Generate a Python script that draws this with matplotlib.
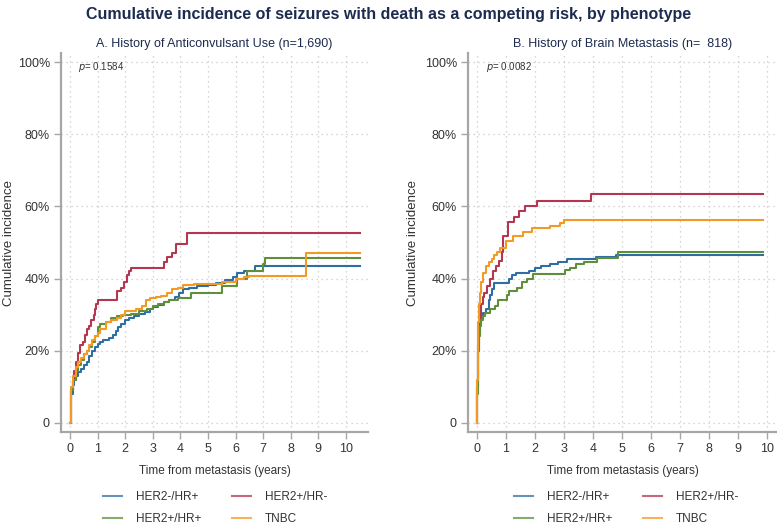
import matplotlib
matplotlib.use("Agg")
import matplotlib.pyplot as plt

plt.rcParams["font.family"] = ["Liberation Sans", "DejaVu Sans"]

groups = ["HER2-/HR+", "HER2+/HR-", "HER2+/HR+", "TNBC"]
colors = ["#2f6ea3", "#b5374f", "#5f8f3a", "#f39a24"]

# Panel A: history of anticonvulsant use
a_t_blue = [0, 0.02, 0.05, 0.1, 0.15, 0.2, 0.3, 0.4, 0.5, 0.6, 0.7, 0.8, 0.9, 1.0, 1.1, 1.2, 1.4,
            1.55, 1.65, 1.75, 1.85, 2.0, 2.15, 2.3, 2.5, 2.7, 2.9, 3.0, 3.2, 3.4, 3.6, 3.8, 3.95,
            4.1, 4.3, 4.6, 5.0, 5.3, 5.6, 5.9, 6.05, 6.3, 6.7, 10.5]
a_v_blue = [0, 5, 8, 10.5, 12, 13, 14, 15, 16, 17, 18.5, 20, 21, 22, 22.5, 23, 23.5,
            24.5, 25.5, 26.5, 27.5, 28.5, 29, 29.5, 30.2, 30.8, 31.5, 32, 32.8, 33.5, 34.2, 35, 36,
            37, 37.5, 38, 38.3, 38.8, 39.5, 40.5, 41.5, 42, 43.5, 43.5]
a_t_red = [0, 0.02, 0.05, 0.1, 0.15, 0.2, 0.3, 0.35, 0.45, 0.55, 0.6, 0.7, 0.75, 0.85, 0.9, 0.95,
           1.0, 1.6, 1.7, 1.85, 1.95, 2.05, 2.15, 2.2, 3.3, 3.4, 3.5, 3.7, 3.85, 4.25, 10.5]
a_v_red = [0, 6, 9, 12, 14.5, 17, 19.5, 21.5, 22.5, 24.5, 26, 27, 28.5, 30, 31.5, 33,
           34, 34, 36.5, 37.5, 39, 41, 42, 43, 43, 44.5, 46, 47.2, 49.7, 52.7, 52.7]
a_t_green = [0, 0.02, 0.05, 0.1, 0.2, 0.3, 0.4, 0.5, 0.6, 0.7, 0.8, 0.9, 1.0, 1.1, 1.3, 1.5, 1.7,
             1.9, 2.2, 2.5, 2.8, 3.0, 3.2, 3.4, 3.6, 3.9, 4.4, 5.5, 5.95, 6.05, 6.4, 7.0, 7.05, 10.5]
a_v_green = [0, 6, 9, 12, 14.5, 16, 17.5, 19, 20, 21, 22.5, 24, 26.5, 27.5, 28, 29, 29.5,
             30, 30.3, 31, 31.5, 32.3, 33, 33.5, 34, 34.7, 36, 38, 38, 40, 42, 44, 45.8, 45.8]
a_t_orange = [0, 0.02, 0.05, 0.1, 0.2, 0.3, 0.4, 0.5, 0.6, 0.7, 0.8, 0.9, 1.0, 1.1, 1.3, 1.5, 1.7,
              1.85, 2.0, 2.2, 2.4, 2.6, 2.75, 2.9, 3.1, 3.3, 3.5, 3.7, 3.9, 4.1, 4.5, 5.0, 5.5,
              6.0, 6.3, 6.5, 8.55, 10.5]
a_v_orange = [0, 7, 10, 13, 15.5, 17, 18, 19, 20, 21.5, 23, 24, 25, 26, 28, 28.5, 29,
              30, 31, 31, 31.5, 32.5, 34, 34.5, 35, 35.3, 36, 37, 37.5, 38.3, 38.5, 38.5, 39,
              40, 40.5, 40.7, 47, 47]

# Panel B: history of brain metastasis
b_t_blue = [0, 0.01, 0.02, 0.04, 0.06, 0.1, 0.15, 0.2, 0.3, 0.4, 0.45, 0.5, 0.6, 1.0, 1.1, 1.2,
            1.35, 1.6, 1.8, 2.0, 2.2, 2.5, 2.8, 3.1, 4.1, 4.8, 9.86]
b_v_blue = [0, 10, 18, 22, 25, 28, 29.5, 30.5, 31.5, 34, 35.5, 37, 38.7, 38.7, 40, 41,
            41.5, 41.5, 42, 43, 43.5, 44, 44.5, 45.5, 46, 46.5, 46.5]
b_t_red = [0, 0.01, 0.03, 0.06, 0.1, 0.15, 0.2, 0.25, 0.35, 0.45, 0.55, 0.65, 0.75, 0.85, 0.9,
           1.07, 1.27, 1.45, 1.65, 2.06, 3.92, 9.86]
b_v_red = [0, 10, 20, 26, 30, 33, 35, 36, 38, 40, 42, 43.5, 45, 47.5, 51.7,
           55.8, 57.2, 58.6, 60, 61.4, 63.5, 63.5]
b_t_green = [0, 0.01, 0.02, 0.04, 0.07, 0.1, 0.15, 0.2, 0.28, 0.45, 0.62, 0.74, 1.02, 1.12, 1.37,
             1.54, 1.71, 1.94, 3.03, 3.2, 3.4, 3.7, 4.15, 4.85, 9.86]
b_v_green = [0, 8, 15, 20, 24, 27, 28.5, 29.5, 30.5, 31.5, 32.5, 34, 35.5, 36.5, 37.5,
             39, 40, 41.2, 42.5, 43, 44, 44.5, 45.8, 47.5, 47.5]
b_t_orange = [0, 0.01, 0.02, 0.04, 0.07, 0.1, 0.15, 0.2, 0.3, 0.4, 0.5, 0.6, 0.7, 0.78, 1.0,
              1.25, 1.6, 1.9, 2.5, 2.85, 3.0, 9.86]
b_v_orange = [0, 12, 20, 28, 33, 36, 39, 41.5, 43.5, 44.5, 45.5, 46.5, 47.5, 48.4, 50.3,
              51.7, 52.8, 54, 54.5, 55.4, 56.3, 56.3]

panels = [
    dict(title="A. History of Anticonvulsant Use (n=1,690)", pval="0.1584",
         curves=[(a_t_blue, a_v_blue), (a_t_red, a_v_red), (a_t_green, a_v_green), (a_t_orange, a_v_orange)],
         rect=[61 / 777, 93 / 525, 307 / 777, 379 / 525], xlim=(-0.33, 10.8),
         leg_x=0.137, ylab_x=-0.15),
    dict(title="B. History of Brain Metastasis (n=  818)", pval="0.0082",
         curves=[(b_t_blue, b_v_blue), (b_t_red, b_v_red), (b_t_green, b_v_green), (b_t_orange, b_v_orange)],
         rect=[468 / 777, 93 / 525, 309 / 777, 379 / 525], xlim=(-0.31, 10.34),
         leg_x=0.149, ylab_x=-0.16),
]

yticks = [0, 20, 40, 60, 80, 100]
ytick_labels = ["0", "20%", "40%", "60%", "80%", "100%"]
xticks = list(range(11))

NAVY = "#1c2b4f"
TXT = "#333333"
SPINE = "#a6a6a6"

fig = plt.figure(figsize=(7.77, 5.25), dpi=100)
fig.text(0.5, 1 - 14 / 525, "Cumulative incidence of seizures with death as a competing risk, by phenotype",
         ha="center", va="center", fontsize=11.5, fontweight="bold", color=NAVY)

for p in panels:
    ax = fig.add_axes(p["rect"])
    handles = []
    for (t, v), c, g in zip(p["curves"], colors, groups):
        h, = ax.plot(t, v, drawstyle="steps-post", color=c, lw=1.5, label=g)
        handles.append(h)
    ax.set_xlim(*p["xlim"])
    ax.set_ylim(-2.5, 102.5)
    ax.set_yticks(yticks)
    ax.set_yticklabels(ytick_labels)
    ax.set_xticks(xticks)
    ax.grid(True, ls=(0, (1, 3)), color="#c8c8c8", lw=0.9)
    for s in ["top", "right"]:
        ax.spines[s].set_visible(False)
    for s in ["left", "bottom"]:
        ax.spines[s].set_color(SPINE)
        ax.spines[s].set_linewidth(1.6)
    ax.tick_params(colors=SPINE, labelcolor=TXT, labelsize=9, length=5, width=1, pad=3)
    ax.set_title(p["title"], fontsize=9, color=NAVY, pad=4)
    ax.set_xlabel("Time from metastasis (years)", fontsize=8.5, color=TXT, labelpad=7)
    ax.set_ylabel("Cumulative incidence", fontsize=9.5, color=TXT)
    ax.yaxis.set_label_coords(p["ylab_x"], 0.5)
    ax.text(0.3, 98.5, r"$p$= " + p["pval"], fontsize=7, color=TXT, va="center")
    # column-wise fill: blue, green | red, orange
    order = [0, 2, 1, 3]
    leg = ax.legend(handles=[handles[i] for i in order], ncol=2, loc="upper left",
                    bbox_to_anchor=(p["leg_x"], -0.155), borderaxespad=0, borderpad=0,
                    frameon=False, fontsize=8.5, handlelength=1.6, handletextpad=1.2,
                    columnspacing=2.6, labelspacing=0.9)
    for txt in leg.get_texts():
        txt.set_color(TXT)
    for ln in leg.get_lines():
        ln.set_alpha(0.75)

fig.savefig("out.png", dpi=100)
